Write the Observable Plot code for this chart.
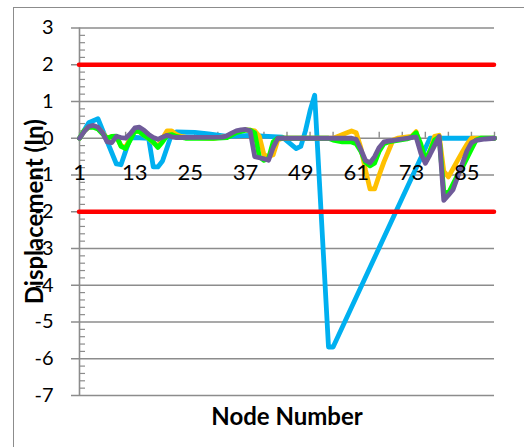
<!DOCTYPE html>
<html><head><meta charset="utf-8">
<script src="https://cdn.jsdelivr.net/npm/d3@7"></script>
<script src="https://cdn.jsdelivr.net/npm/@observablehq/plot@0.6"></script>
<style>
html,body{margin:0;padding:0;background:#fff;}
#wrap{position:relative;width:524px;height:447px;overflow:hidden;}
#border{position:absolute;left:13px;top:7px;width:700px;height:700px;border-left:1.5px solid #8c8c8c;border-top:1.5px solid #8c8c8c;box-sizing:border-box;pointer-events:none;z-index:2}
#chart{position:absolute;left:0;top:0;}
</style></head><body>
<div id="wrap"><div id="border"></div><div id="chart"></div></div>
<script>
// ---- data ----
const yTicks = [3, 2, 1, 0, -1, -2, -3, -4, -5, -6, -7];
const xLabels = [1, 13, 25, 37, 49, 61, 73, 85];
const xTickNodes = [1, 6, 11, 16, 21, 26, 31, 36, 41, 46, 51, 56, 61, 66, 71, 76, 81, 86, 91];
const limits = [2, -2];

const blueNodes  = [1, 3, 5, 9, 10, 11, 12, 13, 16, 17, 18, 19, 20, 21, 22, 26, 29, 33, 38, 45, 48, 49, 50, 51, 52, 55, 56, 77, 86, 91];
const blueValues = [0, 0.42, 0.53, -0.7, -0.72, -0.35, 0.0, 0.02, 0.0, -0.78, -0.78, -0.62, -0.25, 0.12, 0.17, 0.16, 0.12, 0.05, 0.08, 0.03, -0.28, -0.22, 0.2, 0.75, 1.17, -5.68, -5.68, 0, 0, 0];

const orangeNodes  = [1, 2, 3, 4, 5, 6, 7, 8, 9, 10, 11, 12, 13, 14, 15, 16, 17, 18, 19, 20, 21, 22, 23, 24, 30, 33, 35, 37, 38, 39, 40, 41, 42, 43, 44, 45, 56, 57, 59, 60, 61, 62, 63, 64, 65, 66, 67, 68, 69, 70, 73, 74, 75, 76, 77, 78, 79, 80, 81, 82, 83, 84, 85, 86, 91];
const orangeValues = [0, 0.2, 0.3, 0.32, 0.28, 0.15, 0.0, 0.05, 0.05, -0.2, -0.25, 0.0, 0.2, 0.18, 0.08, 0.0, -0.12, -0.22, 0.0, 0.2, 0.2, 0.1, 0.05, 0.03, 0.0, 0.05, 0.18, 0.23, 0.22, 0.2, 0.05, -0.45, -0.5, -0.45, -0.05, 0, 0, 0.05, 0.15, 0.2, 0.15, -0.25, -0.85, -1.38, -1.38, -1.0, -0.65, -0.35, -0.05, 0.0, 0.05, 0.18, -0.3, -0.6, -0.35, 0.05, 0.08, -0.9, -1.05, -0.83, -0.6, -0.38, -0.17, 0.0, 0];

const greenNodes  = [1, 2, 3, 4, 5, 6, 7, 8, 9, 10, 11, 12, 13, 14, 15, 16, 17, 18, 19, 20, 21, 22, 24, 30, 33, 35, 37, 38, 39, 40, 41, 42, 43, 44, 55, 56, 58, 60, 61, 62, 63, 64, 65, 66, 67, 68, 72, 73, 74, 75, 76, 77, 78, 79, 80, 81, 82, 83, 84, 85, 86, 87, 88, 91];
const greenValues = [0, 0.2, 0.3, 0.3, 0.25, 0.12, 0.0, 0.05, 0.06, -0.22, -0.28, -0.05, 0.2, 0.18, 0.08, 0.0, -0.1, -0.25, -0.1, 0.08, 0.1, 0.05, 0.0, 0.0, 0.02, 0.15, 0.22, 0.22, 0.15, -0.5, -0.6, -0.55, -0.1, 0.0, 0.0, -0.05, -0.1, -0.1, -0.15, -0.35, -0.65, -0.75, -0.68, -0.35, -0.15, -0.1, -0.02, 0.03, 0.15, -0.15, -0.6, -0.35, -0.05, 0.03, -1.45, -1.5, -1.25, -1.0, -0.8, -0.55, -0.3, -0.05, 0.0, 0];

const purpleNodes  = [1, 2, 3, 4, 5, 6, 7, 8, 9, 10, 11, 12, 13, 14, 15, 16, 17, 18, 19, 20, 21, 22, 32, 33, 34, 35, 36, 37, 38, 39, 40, 41, 42, 43, 44, 60, 61, 62, 63, 64, 65, 66, 67, 68, 70, 72, 73, 74, 75, 76, 77, 78, 79, 80, 81, 82, 83, 84, 85, 86, 87, 89, 91];
const purpleValues = [0, 0.18, 0.32, 0.35, 0.3, 0.15, -0.1, -0.12, 0.05, 0.02, 0.0, 0.12, 0.28, 0.3, 0.22, 0.1, 0.02, -0.03, 0.03, 0.08, 0.04, 0.02, 0.03, 0.07, 0.14, 0.2, 0.23, 0.24, 0.2, -0.5, -0.53, -0.56, -0.6, -0.25, 0.0, 0.0, -0.03, -0.3, -0.6, -0.67, -0.5, -0.25, -0.1, -0.08, -0.04, 0.0, 0.02, 0.03, -0.4, -0.68, -0.45, -0.2, 0.05, -1.69, -1.55, -1.4, -1.05, -0.7, -0.35, -0.12, -0.06, -0.02, 0];

// ---- build ----
const toRows = (nodes, values) => nodes.map((n, i) => ({node: n, value: values[i]}));
const blue = toRows(blueNodes, blueValues);
const orange = toRows(orangeNodes, orangeValues);
const green = toRows(greenNodes, greenValues);
const purple = toRows(purpleNodes, purpleValues);

const minorTicks = d3.range(-7, 3.0001, 0.2).map(v => Math.round(v * 10) / 10).filter(v => Math.abs(v - Math.round(v)) > 0.01);

const W = 524, H = 447, mL = 79, mR = 30, mT = 27.5, mB = 52;
const frameW = W - mL - mR;
const gray = "#8c8c8c";
const lw = 4.8;

const chart = Plot.plot({
  width: W, height: H,
  marginLeft: mL, marginRight: mR, marginTop: mT, marginBottom: mB,
  x: {domain: [1, 91], axis: null},
  y: {domain: [-7, 3], axis: null},
  style: {fontFamily: "Lato, sans-serif", background: "transparent", overflow: "visible", color: "black"},
  marks: [
    Plot.ruleY(yTicks, {y: d => d, stroke: gray, strokeWidth: 1.6, insetLeft: -8}),
    Plot.ruleX([1], {x: d => d, stroke: gray, strokeWidth: 1.6}),
    Plot.ruleY(minorTicks, {y: d => d, stroke: gray, strokeWidth: 1.2, insetRight: frameW - 6}),
    Plot.ruleX(xTickNodes, {x: d => d, y1: 0, y2: 0, insetTop: -6, stroke: gray, strokeWidth: 1.4}),
    Plot.line(blue, {x: "node", y: "value", stroke: "#00B0F0", strokeWidth: lw}),
    Plot.line(orange, {x: "node", y: "value", stroke: "#FFC000", strokeWidth: lw}),
    Plot.line(green, {x: "node", y: "value", stroke: "#00FF00", strokeWidth: lw}),
    Plot.line(purple, {x: "node", y: "value", stroke: "#6F5B99", strokeWidth: lw}),
    Plot.ruleY(limits, {y: d => d, stroke: "#FF0000", strokeWidth: 4.5, strokeLinecap: "round"}),
    Plot.text(yTicks, {y: d => d, text: d => String(d), frameAnchor: "left", textAnchor: "end", lineAnchor: "middle", dx: -26, fontSize: 20, fill: "black"}),
    Plot.text(xLabels, {x: d => d, y: 0, text: d => String(d), dy: 35, fontSize: 22, fill: "black"}),
    Plot.text(["Displacement (In)"], {frameAnchor: "left", textAnchor: "middle", lineAnchor: "middle", dx: -44, rotate: -90, fontSize: 24, fontWeight: "bold", fill: "black"}),
    Plot.text(["Node Number"], {frameAnchor: "bottom", textAnchor: "middle", lineAnchor: "middle", dy: 22, fontSize: 24, fontWeight: "bold", fill: "black"})
  ]
});
document.getElementById("chart").appendChild(chart);
</script>
</body></html>
